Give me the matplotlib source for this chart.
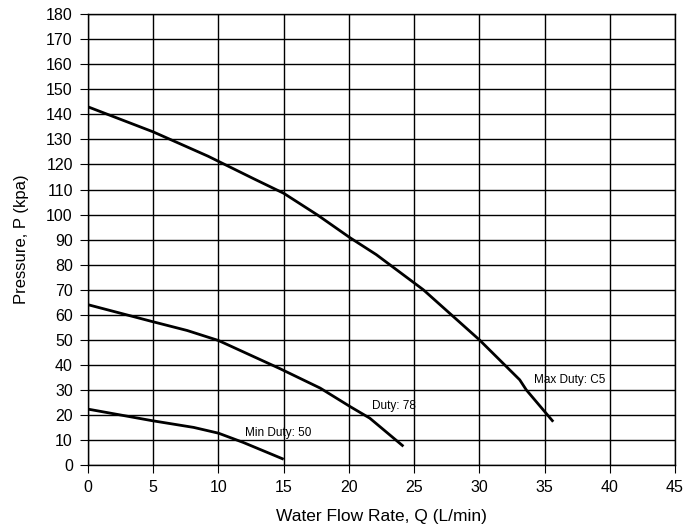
import matplotlib
matplotlib.use('Agg')
import matplotlib.pyplot as plt
import numpy as np

plt.rcParams['font.family'] = ['Liberation Sans', 'DejaVu Sans']

# Pump curves
max_q = [0, 5, 9.2, 12.7, 15, 17.6, 20.1, 22.1, 25.7, 30, 33.1, 33.6, 35.6]
max_p = [143, 133, 123.3, 114.3, 108.5, 99.8, 90.7, 84, 70, 50, 34, 30, 17.7]

duty_q = [0, 4.9, 7.6, 10, 14.7, 17.8, 20.1, 21.6, 24.1]
duty_p = [64, 57.3, 53.7, 49.7, 38.5, 30.7, 23.3, 18.7, 7.8]

min_q = [0, 4.9, 8.1, 10, 11.9, 14.9]
min_p = [22.3, 17.7, 15, 12.7, 9, 2.5]

labels = ["Max Duty: C5", "Duty: 78", "Min Duty: 50"]
label_pos = [(34.2, 34), (21.8, 23.6), (12.0, 12.8)]

fig = plt.figure(figsize=(6.88, 5.26), dpi=100)
ax = fig.add_axes([0.128, 0.116, 0.853, 0.857])

for q, p in [(max_q, max_p), (duty_q, duty_p), (min_q, min_p)]:
    ax.plot(q, p, color='black', lw=2, solid_joinstyle='miter')

for txt, (x, y) in zip(labels, label_pos):
    ax.text(x, y, txt, fontsize=8.5, va='center', ha='left')

ax.set_xlim(0, 45)
ax.set_ylim(0, 180)
ax.set_xticks(np.arange(0, 46, 5))
ax.set_yticks(np.arange(0, 181, 10))
ax.grid(True, color='black', lw=1)
ax.set_axisbelow(True)
for s in ax.spines.values():
    s.set_color('black')
    s.set_linewidth(1)
ax.tick_params(direction='out', length=6, color='black', labelsize=11.5, pad=5)
ax.set_xlabel("Water Flow Rate, Q (L/min)", fontsize=12.5, labelpad=10)
ax.set_ylabel("Pressure, P (kpa)", fontsize=12, labelpad=12)

fig.savefig('out.png', dpi=100)
